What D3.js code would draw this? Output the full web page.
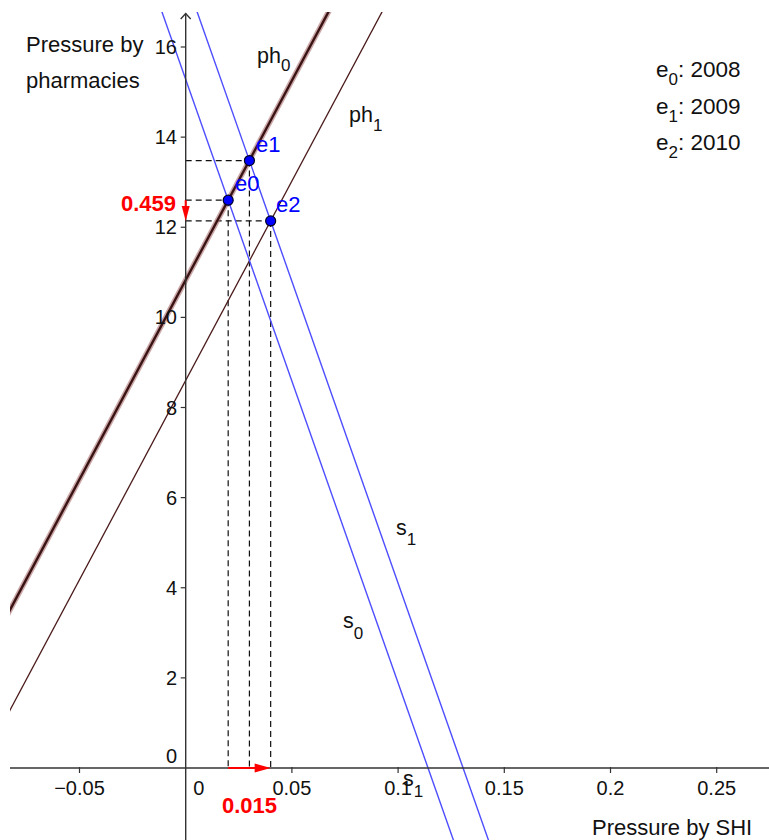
<!DOCTYPE html>
<html><head><meta charset="utf-8">
<script src="https://cdn.jsdelivr.net/npm/d3@7"></script>
<style>
html,body{margin:0;padding:0;background:#fff;}
svg{display:block;font-family:"Liberation Sans",Arial,Helvetica,sans-serif;}
</style></head>
<body>
<script>
// ---- data ----
const xTicks = [-0.05, 0, 0.05, 0.1, 0.15, 0.2, 0.25];
const xTickLabels = ["\u22120.05", "0", "0.05", "0.1", "0.15", "0.2", "0.25"];
const yTicks = [0, 2, 4, 6, 8, 10, 12, 14, 16];
const lineNames = ["ph0", "ph1", "s0", "s1"];
const lineX1 = [-0.09, -0.09, -0.015, 0.0];
const lineY1 = [2.865, 0.64, 17.29, 17.50];
const lineX2 = [0.08, 0.105, 0.13, 0.145];
const lineY2 = [17.91, 17.89, -2.13, -1.93];
const pointNames = ["e0", "e1", "e2"];
const pointX = [0.020, 0.030, 0.040];
const pointY = [12.60, 13.48, 12.14];
const legendYears = [2008, 2009, 2010];
const deltaY = "0.459";
const deltaX = "0.015";

const W = 769, H = 840;
const svg = d3.select("body").append("svg").attr("width", W).attr("height", H);
const x = d3.scaleLinear().domain([-0.05, 0.25]).range([79.5, 716.7]);
const y = d3.scaleLinear().domain([0, 16]).range([768, 47]);
const x0 = x(0), y0 = y(0);

svg.append("defs").append("clipPath").attr("id", "plot")
  .append("rect").attr("x", 10).attr("y", 12).attr("width", W - 10).attr("height", H - 12);

const g = svg.append("g").attr("clip-path", "url(#plot)");

// axes
const axisCol = "#333";
svg.append("line").attr("x1", 10).attr("x2", W).attr("y1", y0).attr("y2", y0)
  .attr("stroke", axisCol).attr("stroke-width", 1.4);
svg.append("line").attr("x1", x0).attr("x2", x0).attr("y1", 13.5).attr("y2", H)
  .attr("stroke", axisCol).attr("stroke-width", 1.4);
svg.append("path").attr("d", `M${x0-5},${19} L${x0},${13.5} L${x0+5},${19}`)
  .attr("fill", "none").attr("stroke", axisCol).attr("stroke-width", 1.4);

// x ticks
xTicks.forEach((t, i) => {
  if (t !== 0) {
    svg.append("line").attr("x1", x(t)).attr("x2", x(t)).attr("y1", y0 - 1).attr("y2", y0 + 5)
      .attr("stroke", axisCol).attr("stroke-width", 1.2);
  }
  svg.append("text").attr("x", t === 0 ? x0 + 13 : x(t)).attr("y", 795)
    .attr("text-anchor", "middle").attr("font-size", 20).attr("fill", "#111").text(xTickLabels[i]);
});
// y ticks
yTicks.forEach(t => {
  if (t !== 0) {
    svg.append("line").attr("x1", x0 - 5).attr("x2", x0).attr("y1", y(t)).attr("y2", y(t))
      .attr("stroke", axisCol).attr("stroke-width", 1.2);
    svg.append("text").attr("x", 177).attr("y", y(t) + 7).attr("text-anchor", "end")
      .attr("font-size", 20).attr("fill", "#111").text(t);
  } else {
    svg.append("text").attr("x", 177).attr("y", 763).attr("text-anchor", "end")
      .attr("font-size", 20).attr("fill", "#111").text(t);
  }
});

// dashed guides
pointNames.forEach((n, i) => {
  const px = x(pointX[i]), py = y(pointY[i]);
  g.append("line").attr("x1", x0).attr("x2", px).attr("y1", py).attr("y2", py)
    .attr("stroke", "#111").attr("stroke-width", 1.2).attr("stroke-dasharray", "6,4");
  g.append("line").attr("x1", px).attr("x2", px).attr("y1", py).attr("y2", y0)
    .attr("stroke", "#111").attr("stroke-width", 1.2).attr("stroke-dasharray", "6,4");
});

// lines
const lineStyle = {
  ph0: [{c: "rgba(170,110,110,0.6)", w: 5.5}, {c: "#3a1414", w: 2.4}],
  ph1: [{c: "#4a1a1a", w: 1.3}],
  s0: [{c: "#4d4dff", w: 1.4}],
  s1: [{c: "#4d4dff", w: 1.4}]
};
lineNames.forEach((n, i) => {
  lineStyle[n].forEach(s => {
    g.append("line").attr("x1", x(lineX1[i])).attr("y1", y(lineY1[i]))
      .attr("x2", x(lineX2[i])).attr("y2", y(lineY2[i]))
      .attr("stroke", s.c).attr("stroke-width", s.w);
  });
});

// red arrows
const red = "#ff0000";
const ya = y(pointY[0]), yb = y(pointY[2]);
svg.append("line").attr("x1", x0).attr("x2", x0).attr("y1", ya).attr("y2", yb - 12)
  .attr("stroke", red).attr("stroke-width", 2);
svg.append("path").attr("d", `M${x0-4},${yb-15} L${x0+4},${yb-15} L${x0},${yb} Z`).attr("fill", red);
const xa = x(pointX[0]), xb = x(pointX[2]);
svg.append("line").attr("x1", xa).attr("x2", xb - 12).attr("y1", y0).attr("y2", y0)
  .attr("stroke", red).attr("stroke-width", 2);
svg.append("path").attr("d", `M${xb-16},${y0-4.5} L${xb-16},${y0+4.5} L${xb},${y0} Z`).attr("fill", red);

svg.append("text").attr("x", 176).attr("y", 211).attr("text-anchor", "end")
  .attr("font-size", 22).attr("font-weight", "bold").attr("fill", red).text(deltaY);
svg.append("text").attr("x", 222).attr("y", 813)
  .attr("font-size", 22).attr("font-weight", "bold").attr("fill", red).text(deltaX);

// points
pointNames.forEach((n, i) => {
  svg.append("circle").attr("cx", x(pointX[i])).attr("cy", y(pointY[i])).attr("r", 5)
    .attr("fill", "#0000ff").attr("stroke", "#000022").attr("stroke-width", 1.2);
});
const ptLabelPos = [[235, 191], [256, 152], [276, 212]];
pointNames.forEach((n, i) => {
  svg.append("text").attr("x", ptLabelPos[i][0]).attr("y", ptLabelPos[i][1])
    .attr("font-size", 22).attr("fill", "#0000ff").text(n);
});

// subscripted labels
function subLabel(xp, yp, main, sub, size, subSize, dy) {
  const t = svg.append("text").attr("x", xp).attr("y", yp).attr("font-size", size).attr("fill", "#111");
  t.append("tspan").text(main);
  t.append("tspan").attr("dy", dy).attr("font-size", subSize).text(sub);
  return t;
}
subLabel(257, 63, "ph", "0", 21.5, 17, 8);
subLabel(349, 122, "ph", "1", 21.5, 17, 9);
subLabel(396, 535, "s", "1", 21.5, 17, 10);
subLabel(343, 628, "s", "0", 21.5, 17, 11);
subLabel(403, 786, "s", "1", 21.5, 17, 11);

// legend
legendYears.forEach((yr, i) => {
  const t = svg.append("text").attr("x", 656).attr("y", 77 + i * 36.5)
    .attr("font-size", 22.5).attr("fill", "#111");
  t.append("tspan").text("e");
  t.append("tspan").attr("dy", 8).attr("font-size", 17).text(i);
  t.append("tspan").attr("dy", -8).text(": " + yr);
});

// axis titles
svg.append("text").attr("x", 26).attr("y", 52).attr("font-size", 22).attr("fill", "#111").text("Pressure by");
svg.append("text").attr("x", 26).attr("y", 88).attr("font-size", 22).attr("fill", "#111").text("pharmacies");
svg.append("text").attr("x", 592).attr("y", 835).attr("font-size", 22).attr("fill", "#111").text("Pressure by SHI");
</script>
</body></html>
